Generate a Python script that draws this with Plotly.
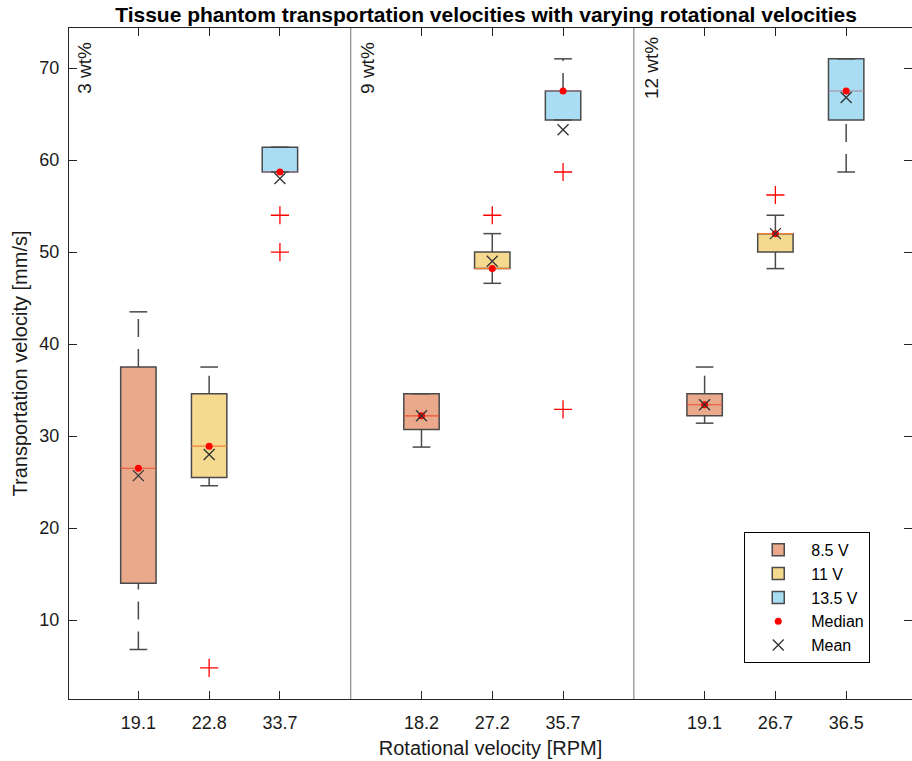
import plotly.graph_objects as go

# ---------------- data ----------------
panel_labels = ["3 wt%", "9 wt%", "12 wt%"]
voltages = ["8.5 V", "11 V", "13.5 V"]
tick_labels = ["19.1", "22.8", "33.7", "18.2", "27.2", "35.7", "19.1", "26.7", "36.5"]

lower_whisker = [6.8, 24.6, 58.7, 28.8, 46.6, 64.35, 31.4, 48.2, 58.7]
q1 = [14.0, 25.5, 58.7, 30.7, 48.2, 64.35, 32.2, 50.0, 64.35]
median = [26.5, 28.9, 58.7, 32.2, 48.2, 67.5, 33.4, 52.0, 67.5]
q3 = [37.5, 34.6, 61.4, 34.6, 50.0, 67.5, 34.6, 52.0, 71.0]
upper_whisker = [43.5, 37.5, 61.4, 34.6, 52.0, 71.0, 37.5, 54.0, 71.0]
mean = [25.7, 28.0, 58.0, 32.2, 49.0, 63.3, 33.4, 52.0, 66.8]
outliers = [[], [4.8], [54.0, 50.0], [], [54.0], [58.7, 32.9], [], [56.2], []]

# ---------------- styling ----------------
FONT = "Liberation Sans, Arial, Helvetica, sans-serif"
fill_colors = ["#EBA98C", "#F5D98F", "#A8DDF3"]
median_colors = ["#EB5033", "#F28036", "#A8849A"]
edge = "#4a4a4a"
axis_col = "#262626"
box_width = 0.5
cap_half = 0.125
n_groups = len(voltages)
panel_size = n_groups + 1

positions = [panel_size * p + v + 1 for p in range(len(panel_labels)) for v in range(n_groups)]
boundaries = [panel_size * (p + 1) for p in range(len(panel_labels) - 1)]
panel_starts = [panel_size * p for p in range(len(panel_labels))]

fig = go.Figure()

# boxes per voltage (bars from q1 to q3)
for v in range(n_groups):
    idx = [i for i in range(len(positions)) if i % n_groups == v]
    fig.add_trace(go.Bar(x=[positions[i] for i in idx],
                         base=[q1[i] for i in idx],
                         y=[q3[i] - q1[i] for i in idx],
                         width=box_width, name=voltages[v],
                         marker=dict(color=fill_colors[v], line=dict(color=edge, width=1.5)),
                         hoverinfo="skip"))

# median lines
for v in range(n_groups):
    mx, my = [], []
    for i, x in enumerate(positions):
        if i % n_groups != v:
            continue
        mx += [x - box_width / 2, x + box_width / 2, None]
        my += [median[i], median[i], None]
    fig.add_trace(go.Scatter(x=mx, y=my, mode="lines", line=dict(color=median_colors[v], width=1.2),
                             showlegend=False, hoverinfo="skip"))

# whiskers (dashed) and caps
wx, wy, cx, cy = [], [], [], []
for i, x in enumerate(positions):
    if upper_whisker[i] > q3[i]:
        wx += [x, x, None]
        wy += [q3[i], upper_whisker[i], None]
    if lower_whisker[i] < q1[i]:
        wx += [x, x, None]
        wy += [lower_whisker[i], q1[i], None]
    cx += [x - cap_half, x + cap_half, None, x - cap_half, x + cap_half, None]
    cy += [upper_whisker[i], upper_whisker[i], None, lower_whisker[i], lower_whisker[i], None]
fig.add_trace(go.Scatter(x=wx, y=wy, mode="lines",
                         line=dict(color=edge, width=1.5, dash="18px,12px"),
                         showlegend=False, hoverinfo="skip"))
fig.add_trace(go.Scatter(x=cx, y=cy, mode="lines", line=dict(color=edge, width=1.5),
                         showlegend=False, hoverinfo="skip"))

# outliers
ox, oy = [], []
for i, x in enumerate(positions):
    for o in outliers[i]:
        ox.append(x)
        oy.append(o)
fig.add_trace(go.Scatter(x=ox, y=oy, mode="markers",
                         marker=dict(symbol="cross-thin", size=13, line=dict(color="red", width=1.3)),
                         showlegend=False, hoverinfo="skip"))

# median dots and means
fig.add_trace(go.Scatter(x=positions, y=median, mode="markers", name="Median",
                         marker=dict(symbol="circle", size=7, color="red")))
fig.add_trace(go.Scatter(x=positions, y=mean, mode="markers", name="Mean",
                         marker=dict(symbol="x-thin", size=11, line=dict(color="#333333", width=1.3))))

# panel separators
for b in boundaries:
    fig.add_shape(type="line", xref="x", yref="paper", x0=b, x1=b, y0=0, y1=1,
                  line=dict(color="#8a8a8a", width=1.2))

# panel labels
for s, lab in zip(panel_starts, panel_labels):
    fig.add_annotation(x=s + 0.24, y=0.94, xref="x", yref="paper", text=lab,
                       textangle=-90, showarrow=False, xanchor="center", yanchor="middle",
                       font=dict(family=FONT, size=19, color="#1a1a1a"))

fig.update_layout(
    width=912, height=761,
    margin=dict(l=69, r=0, t=28, b=62),
    paper_bgcolor="white", plot_bgcolor="white",
    barmode="overlay",
    font=dict(family=FONT, color="#1a1a1a"),
    title=dict(text="<b>Tissue phantom transportation velocities with varying rotational velocities</b>",
               x=0.533, xref="container", xanchor="center", y=0.981, yref="container", yanchor="middle",
               font=dict(family=FONT, size=21, color="black")),
    legend=dict(x=0.801, y=0.249, xanchor="left", yanchor="top", bgcolor="white",
                bordercolor="black", borderwidth=1, font=dict(family=FONT, size=16, color="black"),
                tracegroupgap=0, itemwidth=56),
    showlegend=True,
)
fig.update_xaxes(range=[0.02, 11.93], tickvals=positions, ticktext=tick_labels,
                 ticks="inside", ticklen=8, tickcolor=axis_col, showline=True, linecolor=axis_col,
                 linewidth=1, mirror="ticks", showgrid=False, zeroline=False,
                 tickfont=dict(family=FONT, size=18, color="#1a1a1a"), ticklabelstandoff=7,
                 title=dict(text="Rotational velocity [RPM]", font=dict(family=FONT, size=20, color="#1a1a1a"),
                            standoff=9))
fig.update_yaxes(range=[1.42, 74.35], tick0=0, dtick=10,
                 ticks="inside", ticklen=8, tickcolor=axis_col, showline=True, linecolor=axis_col,
                 linewidth=1, mirror="ticks", showgrid=False, zeroline=False,
                 tickfont=dict(family=FONT, size=18, color="#1a1a1a"), ticklabelstandoff=5,
                 title=dict(text="Transportation velocity [mm/s]", font=dict(family=FONT, size=20, color="#1a1a1a"),
                            standoff=6))

fig.write_html("out.html", config={"displayModeBar": False},
               post_script="document.body.style.margin='0px';")
